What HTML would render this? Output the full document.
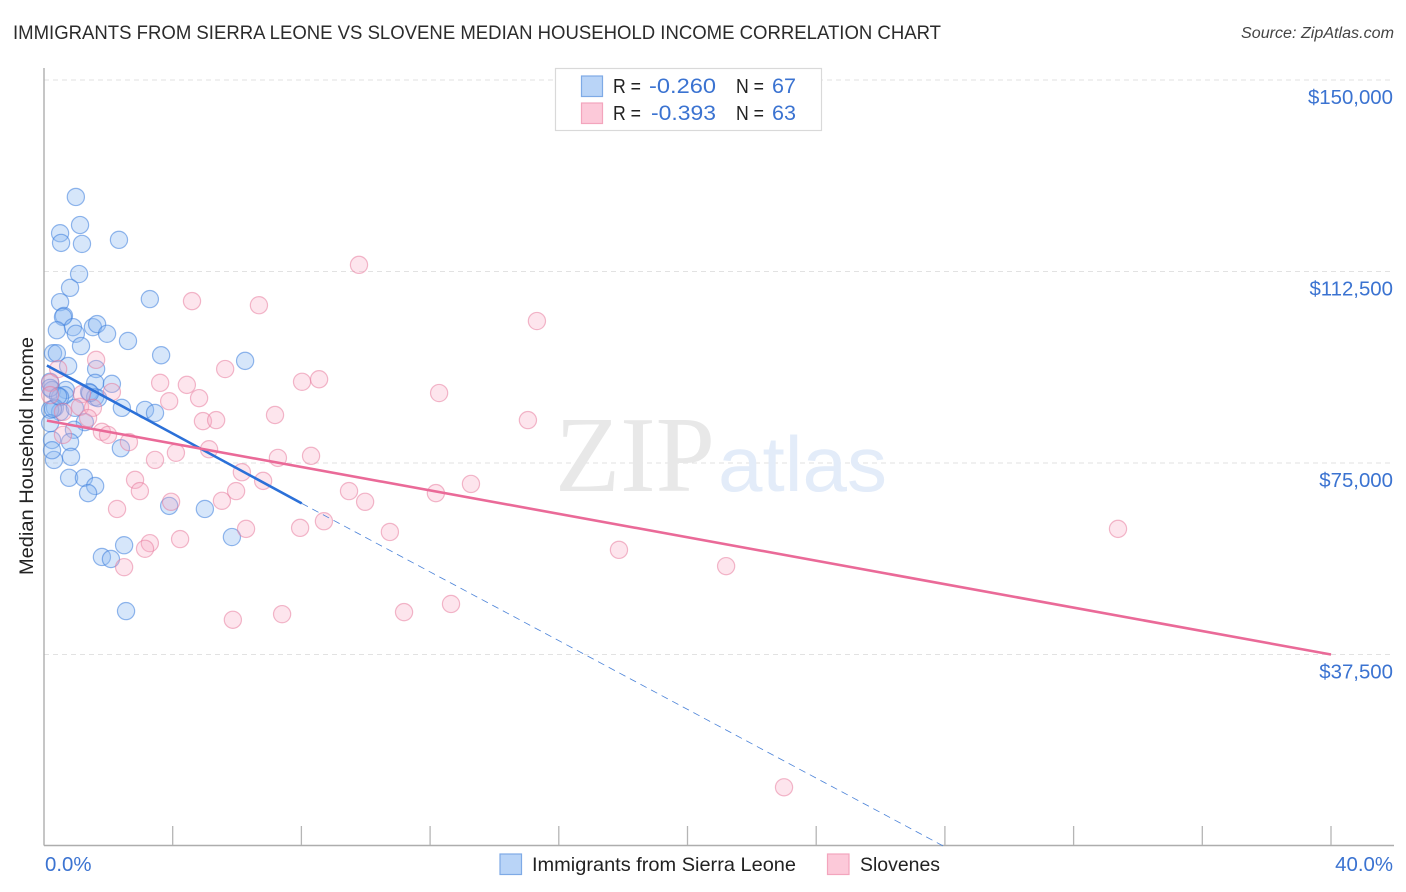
<!DOCTYPE html>
<html lang="en">
<head>
<meta charset="utf-8">
<title>Immigrants from Sierra Leone vs Slovene Median Household Income Correlation Chart</title>
<style>
html,body{margin:0;padding:0;background:#fff;width:1406px;height:892px;overflow:hidden}
svg{display:block;font-family:"Liberation Sans",sans-serif}
</style>
</head>
<body>
<svg id="chart" xmlns="http://www.w3.org/2000/svg" width="1406" height="892" viewBox="0 0 1406 892">
  <rect x="0" y="0" width="1406" height="892" fill="#ffffff"/>
  <text x="13" y="39" font-size="19.5" fill="#2b2b2b" textLength="928" lengthAdjust="spacingAndGlyphs">IMMIGRANTS FROM SIERRA LEONE VS SLOVENE MEDIAN HOUSEHOLD INCOME CORRELATION CHART</text>
  <text x="1394" y="38" font-size="15.5" font-style="italic" fill="#444" text-anchor="end" textLength="153" lengthAdjust="spacingAndGlyphs">Source: ZipAtlas.com</text>
  <g id="grid"></g>
  <g>
    <text x="555" y="491" font-family="'Liberation Serif',serif" font-size="108" fill="#e8e8e8" textLength="160" lengthAdjust="spacingAndGlyphs">ZIP</text>
    <text x="718" y="491" font-size="78" fill="#e3ecf9" textLength="169" lengthAdjust="spacingAndGlyphs">atlas</text>
  </g>
  <g id="axes"></g>
  <g id="points-blue"></g>
  <g id="points-pink"></g>
  <g id="trends"></g>
  <text transform="translate(33,456) rotate(-90)" font-size="19" fill="#222" text-anchor="middle" textLength="238" lengthAdjust="spacingAndGlyphs">Median Household Income</text>
  <g id="labels"></g>

  <g>
    <rect x="555.5" y="68.5" width="266" height="62" fill="#fff" stroke="#d9d9d9" stroke-width="1.2"/>
    <rect x="581.5" y="76" width="21" height="20.5" fill="#b9d4f7" stroke="#7eaae6" stroke-width="1.2"/>
    <rect x="581.5" y="103" width="21" height="20.5" fill="#fcc9d9" stroke="#f3a5bd" stroke-width="1.2"/>
    <text x="613" y="93" font-size="20" fill="#222" textLength="28" lengthAdjust="spacingAndGlyphs">R =</text>
    <text x="649" y="93" font-size="21.5" fill="#3b73d1" textLength="67" lengthAdjust="spacingAndGlyphs">-0.260</text>
    <text x="736" y="93" font-size="20" fill="#222" textLength="28" lengthAdjust="spacingAndGlyphs">N =</text>
    <text x="772" y="93" font-size="21.5" fill="#3b73d1" textLength="24" lengthAdjust="spacingAndGlyphs">67</text>
    <text x="613" y="120" font-size="20" fill="#222" textLength="28" lengthAdjust="spacingAndGlyphs">R =</text>
    <text x="651" y="120" font-size="21.5" fill="#3b73d1" textLength="65" lengthAdjust="spacingAndGlyphs">-0.393</text>
    <text x="736" y="120" font-size="20" fill="#222" textLength="28" lengthAdjust="spacingAndGlyphs">N =</text>
    <text x="772" y="120" font-size="21.5" fill="#3b73d1" textLength="24" lengthAdjust="spacingAndGlyphs">63</text>
  </g>

  <g>
    <rect x="500" y="854" width="21.5" height="20.5" fill="#b9d4f7" stroke="#7eaae6" stroke-width="1.2"/>
    <text x="532" y="871" font-size="19.5" fill="#222" textLength="264" lengthAdjust="spacingAndGlyphs">Immigrants from Sierra Leone</text>
    <rect x="827.5" y="854" width="21.5" height="20.5" fill="#fcc9d9" stroke="#f3a5bd" stroke-width="1.2"/>
    <text x="860" y="871" font-size="19.5" fill="#222" textLength="80" lengthAdjust="spacingAndGlyphs">Slovenes</text>
  </g>
</svg>
<script>
const yTickValues = [150000, 112500, 75000, 37500];
const yTickLabels = ["$150,000", "$112,500", "$75,000", "$37,500"];
const xTickValues = [4, 8, 12, 16, 20, 24, 28, 32, 36, 40];
const xEndLabels = ["0.0%", "40.0%"];

const blueX = [0.99,1.12,0.50,0.53,1.18,2.33,1.09,0.81,0.50,0.62,0.59,0.40,0.90,0.99,1.52,1.65,1.96,1.15,2.61,3.29,3.64,6.25,0.28,0.40,0.75,1.62,1.59,2.11,0.19,0.25,0.68,0.65,1.40,1.59,1.68,0.50,0.34,0.50,0.19,0.96,2.42,3.14,3.45,1.27,0.19,0.93,0.25,0.81,2.39,0.31,0.84,0.78,1.24,1.59,1.37,3.89,5.00,5.84,2.49,1.80,2.08,2.55,0.19,0.28,1.43,0.44,0.25];
const blueY = [127100,121600,120000,118100,117900,118700,112000,109300,106500,103800,103600,101000,101600,100300,101600,102200,100300,97900,98900,107100,96100,95000,96500,96500,94000,93400,90700,90500,90900,89300,89300,88300,88900,87900,87700,87900,85800,85000,85400,85800,85800,85400,84800,83000,82800,81500,79500,79100,77900,75600,76200,72100,72100,70500,69100,66600,66000,60500,58900,56600,56200,46000,89700,85600,88700,88100,77500];

const pinkX = [9.79,15.32,4.60,6.68,1.62,0.44,5.63,3.61,4.44,8.02,8.55,12.28,2.11,1.18,3.89,4.82,4.94,5.35,7.18,15.04,0.19,0.19,1.12,1.52,0.59,1.37,0.59,1.80,1.99,2.64,5.13,3.45,4.10,7.27,8.30,2.83,2.98,6.15,6.81,9.48,9.98,13.27,12.18,5.53,5.97,3.95,2.27,8.70,6.28,7.96,10.75,33.38,4.23,3.29,3.14,17.87,21.20,2.49,5.87,7.40,11.19,12.65,23.00];
const pinkY = [113800,102800,106700,105900,95200,93400,93400,90700,90300,90900,91400,88700,88900,88500,87100,87700,83200,83400,84400,83400,90700,88300,86000,85800,85000,83800,80500,81100,80500,79100,77700,75600,77000,76000,76400,71700,69500,73200,71500,69500,67400,70900,69100,67600,69500,67400,66000,63600,62100,62300,61500,62100,60100,59300,58200,58000,54800,54600,44300,45400,45800,47400,11500];

const blueTrendX = [0.09, 8.01];
const blueTrendY = [94100, 67100];
const blueDashX = [8.01, 27.95];
const blueDashY = [67100, 0];
const pinkTrendX = [0.09, 40];
const pinkTrendY = [83300, 37500];

const NS = "http://www.w3.org/2000/svg";
const xScale = v => 44 + v * 32.175;
const yScale = v => 80 + (150000 - v) * 191.5 / 37500;

function mk(tag, parentId, attrs) {
  const el = document.createElementNS(NS, tag);
  for (const k in attrs) el.setAttribute(k, attrs[k]);
  document.getElementById(parentId).appendChild(el);
  return el;
}

yTickValues.forEach((v, i) => {
  const line = mk("line", "grid", {x1: 44, x2: 1394, y1: yScale(v), y2: yScale(v), stroke: "#e2e2e2", "stroke-width": 1, "stroke-dasharray": "5 4"});
  
  
  const label = mk("text", "labels", {x: 1393, y: yScale(v) + 24, "text-anchor": "end", "font-size": 20.4, fill: "#3b73d1"});
  label.textContent = yTickLabels[i];
  
  
});

const yAxis = mk("line", "axes", {x1: 44, x2: 44, y1: 68, y2: 845.5, stroke: "#adadad", "stroke-width": 1.4});


const xAxis = mk("line", "axes", {x1: 44, x2: 1394, y1: 845.5, y2: 845.5, stroke: "#adadad", "stroke-width": 1.4});


xTickValues.forEach(v => {
  const tick = mk("line", "axes", {x1: xScale(v), x2: xScale(v), y1: 826, y2: 845, stroke: "#b5b5b5", "stroke-width": 1.3});
  
  
});

const xStart = mk("text", "labels", {x: 45, y: 871, "font-size": 20.4, fill: "#3b73d1"});
xStart.textContent = xEndLabels[0];


const xEnd = mk("text", "labels", {x: 1393, y: 871, "font-size": 20.4, fill: "#3b73d1", "text-anchor": "end"});
xEnd.textContent = xEndLabels[1];



blueX.forEach((v, i) => {
  const dot = mk("circle", "points-blue", {cx: xScale(v), cy: yScale(blueY[i]), r: 8.6, fill: "rgba(140,185,240,0.36)", stroke: "rgba(60,125,220,0.55)", "stroke-width": 1.2});
  
  
});
pinkX.forEach((v, i) => {
  const dot = mk("circle", "points-pink", {cx: xScale(v), cy: yScale(pinkY[i]), r: 8.6, fill: "rgba(248,170,195,0.3)", stroke: "rgba(230,120,155,0.52)", "stroke-width": 1.2});
  
  
});

const blueDash = mk("line", "trends", {x1: xScale(blueDashX[0]), y1: yScale(blueDashY[0]), x2: xScale(blueDashX[1]), y2: yScale(blueDashY[1]), stroke: "#4a82d8", "stroke-width": 0.8, "stroke-dasharray": "7 5"});


const blueTrend = mk("line", "trends", {x1: xScale(blueTrendX[0]), y1: yScale(blueTrendY[0]), x2: xScale(blueTrendX[1]), y2: yScale(blueTrendY[1]), stroke: "#2b70d8", "stroke-width": 2.6});


const pinkTrend = mk("line", "trends", {x1: xScale(pinkTrendX[0]), y1: yScale(pinkTrendY[0]), x2: xScale(pinkTrendX[1]), y2: yScale(pinkTrendY[1]), stroke: "#ea6a98", "stroke-width": 2.6});


</script>
</body>
</html>
